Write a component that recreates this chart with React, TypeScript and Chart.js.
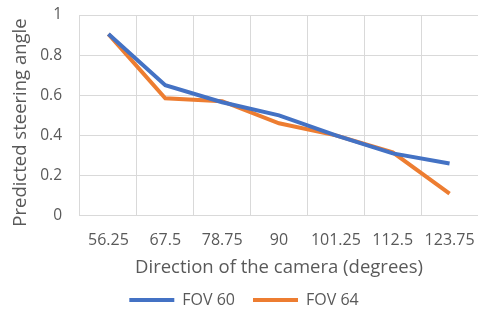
import React, { useEffect, useRef } from "react";
import { Chart, registerables } from "chart.js";

Chart.register(...registerables);

const categories = ["56.25", "67.5", "78.75", "90", "101.25", "112.5", "123.75"];
const fov60 = [0.905, 0.65, 0.565, 0.5, 0.4, 0.31, 0.26];
const fov64 = [0.905, 0.585, 0.57, 0.46, 0.4, 0.315, 0.11];
const yTicks = [0, 0.2, 0.4, 0.6, 0.8, 1];

const FONT = "'Open Sans', sans-serif";
const TEXT = "#595959";
const GRID = "#d9d9d9";

export default function App() {
  const ref = useRef<HTMLCanvasElement | null>(null);

  useEffect(() => {
    document.body.style.margin = "0";
    const ctx = ref.current!;
    const chart = new Chart(ctx, {
      type: "line",
      data: {
        labels: categories,
        datasets: [
          {
            label: "FOV 60",
            data: fov60,
            borderColor: "#4472C4",
            backgroundColor: "#4472C4",
            borderWidth: 4,
            pointRadius: 0,
            tension: 0,
          },
          {
            label: "FOV 64",
            data: fov64,
            borderColor: "#ED7D31",
            backgroundColor: "#ED7D31",
            borderWidth: 4,
            pointRadius: 0,
            tension: 0,
          },
        ],
      },
      options: {
        animation: false,
        responsive: false,
        layout: { padding: { top: 15, right: 0, left: 10, bottom: -9 } },
        plugins: {
          tooltip: { enabled: false },
          legend: {
            position: "bottom",
            labels: {
              boxWidth: 45,
              boxHeight: 4,
              padding: 18,
              color: TEXT,
              font: { family: FONT, size: 16 },
              generateLabels: (c: any) =>
                Chart.defaults.plugins.legend.labels
                  .generateLabels(c)
                  .map((l: any) => ({ ...l, lineWidth: 0 })),
            },
          },
        },
        scales: {
          x: {
            offset: true,
            grid: {
              offset: true,
              color: GRID,
              lineWidth: 1,
              drawTicks: true,
              tickLength: 13,
              tickColor: "rgba(0,0,0,0)",
            },
            border: { color: GRID },
            ticks: { color: TEXT, font: { family: FONT, size: 16 }, padding: 2, maxRotation: 0 },
            title: {
              display: true,
              text: "Direction of the camera (degrees)",
              color: TEXT,
              font: { family: FONT, size: 18.5 },
              padding: { top: 5, bottom: -5 },
            },
          },
          y: {
            min: 0,
            max: 1,
            afterBuildTicks: (axis: any) => {
              axis.ticks = yTicks.map((v) => ({ value: v }));
            },
            grid: {
              color: GRID,
              lineWidth: 1,
              drawTicks: true,
              tickLength: 16,
              tickColor: "rgba(0,0,0,0)",
            },
            border: { display: false },
            ticks: {
              color: TEXT,
              font: { family: FONT, size: 15.5 },
              padding: 2,
              callback: (v: any) => String(Number(v)),
            },
            title: {
              display: true,
              text: "Predicted steering angle   ",
              color: TEXT,
              font: { family: FONT, size: 18.5 },
              padding: { top: 0, bottom: 6 },
            },
          },
        },
      },
    });
    return () => chart.destroy();
  }, []);

  return (
    <div style={{ width: 478, height: 309 }}>
      <canvas ref={ref} width={478} height={309} />
    </div>
  );
}
